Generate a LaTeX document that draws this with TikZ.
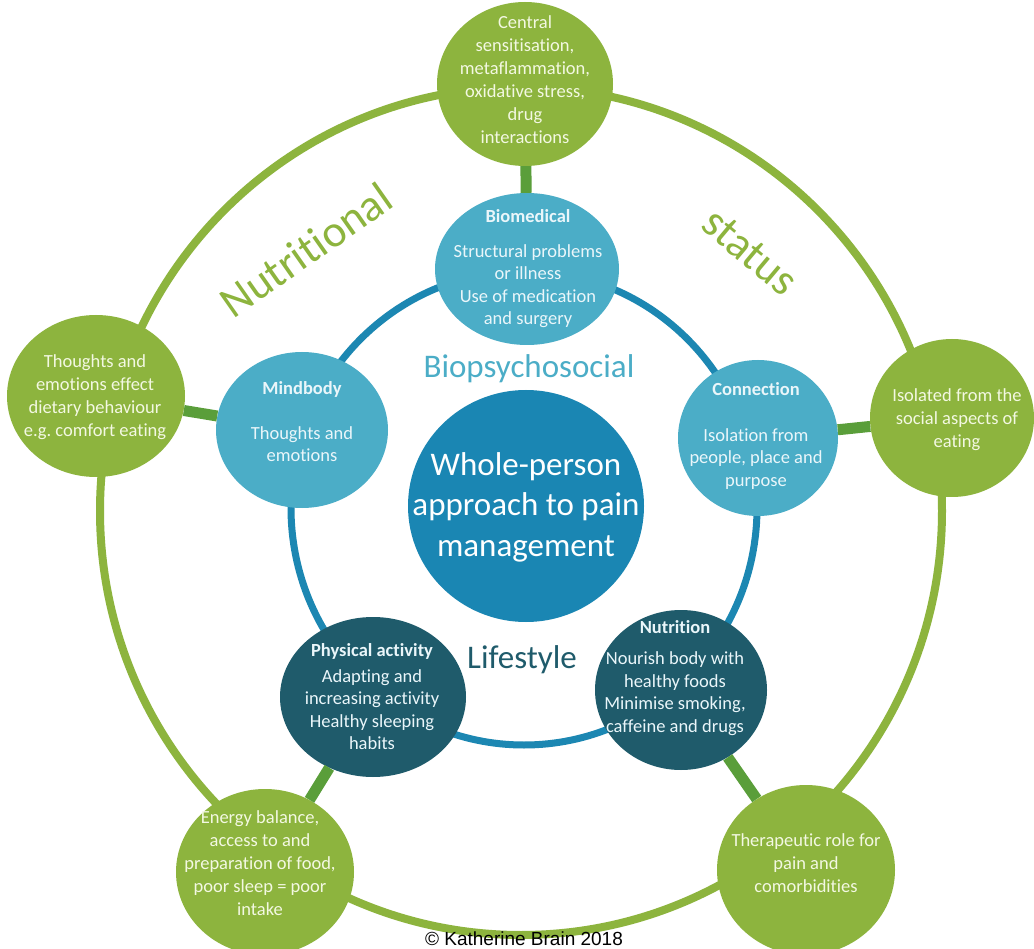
\documentclass[tikz,border=0pt]{standalone}
\usepackage{fontspec}
\setmainfont{Carlito}[Ligatures=NoCommon]
\newfontfamily\arialf{Liberation Sans}
\usetikzlibrary{shapes.geometric}
\definecolor{grn}{HTML}{8DB43E}
\definecolor{grnd}{HTML}{5A9E3A}
\definecolor{aqua}{HTML}{4BADC7}
\definecolor{ringb}{HTML}{1C87B2}
\definecolor{cblue}{HTML}{1A86B3}
\definecolor{dteal}{HTML}{1F5B6B}
\definecolor{gtext}{HTML}{F3F8E2}
\definecolor{btext}{HTML}{EAF6FA}
\newcommand\fsz[2]{\fontsize{#1}{#2}\selectfont}
\frenchspacing
\begin{document}
\begin{tikzpicture}[x=1pt,y=-1pt,
  blob/.style={ellipse, inner sep=0pt, draw=none},
  outerc/.style={blob, fill=grn},
  aquac/.style={blob, fill=aqua},
  tealc/.style={blob, fill=dteal},
  gtxt/.style={align=center, text=gtext, font=\fsz{18.5}{23}, inner sep=0pt},
  btxt/.style={align=center, text=btext, font=\fsz{18.5}{22.5}, inner sep=0pt},
  bar/.style={draw=grnd, line width=11pt},
  ringouter/.style={draw=grn, line width=8pt},
  ringinner/.style={draw=ringb, line width=7pt}]
\useasboundingbox (0,0) rectangle (1034,949);
\fill[white] (0,0) rectangle (1034,949);
% rings
\draw[ringouter] (521,511) ellipse [x radius=421, y radius=424];
\draw[ringinner] (524,508) ellipse [x radius=233, y radius=237];
% outer green circles
\node[outerc, minimum width=176, minimum height=164] (g1) at (525,84) {};
\node[outerc, minimum width=178, minimum height=162] (g2) at (96,396) {};
\node[outerc, minimum width=164, minimum height=158] (g3) at (952,418) {};
\node[outerc, minimum width=178, minimum height=166] (g4) at (265,872) {};
\node[outerc, minimum width=178, minimum height=170] (g5) at (806,870) {};
% inner circles
\node[aquac, minimum width=184, minimum height=152] (bio) at (527,269) {};
\node[aquac, minimum width=172, minimum height=156] (mind) at (302,430) {};
\node[aquac, minimum width=160, minimum height=156] (conn) at (758,438) {};
\node[tealc, minimum width=186, minimum height=160] (phys) at (373,697) {};
\node[tealc, minimum width=172, minimum height=160] (nutr) at (681,690) {};
\node[blob, fill=cblue, minimum width=236, minimum height=232] (core) at (526,506) {};
% bars
\draw[bar] (g1) -- (bio);
\draw[bar] (g2) -- (mind);
\draw[bar] (g3) -- (conn);
\draw[bar] (g4) -- (phys);
\draw[bar] (g5) -- (nutr);
% texts
\node[gtxt] (g1t) at (525,80) {Central\\sensitisation,\\metaflammation,\\oxidative stress,\\drug\\interactions};
\node[gtxt] (g2t) at (95,397) {Thoughts and\\emotions effect\\dietary behaviour\\e.g. comfort eating};
\node[gtxt] (g3t) at (957,420) {Isolated from the\\social aspects of\\eating};
\node[gtxt] (g4t) at (260,863) {Energy balance,\\access to and\\preparation of food,\\poor sleep = poor\\intake};
\node[gtxt] (g5t) at (806,863) {Therapeutic role for\\pain and\\comorbidities};
\node[btxt] (biot) at (528,269) {\textbf{Biomedical}\\[12pt]Structural problems\\or illness\\Use of medication\\and surgery};
\node[btxt] (mindt) at (302,422) {\textbf{Mindbody}\\[22pt]Thoughts and\\emotions};
\node[btxt] (connt) at (756,436) {\textbf{Connection}\\[23pt]Isolation from\\people, place and\\purpose};
\node[btxt] (physt) at (372,697) {\textbf{Physical activity}\\[3pt]Adapting and\\increasing activity\\Healthy sleeping\\habits};
\node[btxt] (nutrt) at (675,678) {\textbf{Nutrition}\\[9pt]Nourish body with\\healthy foods\\Minimise smoking,\\caffeine and drugs};
\node[align=center, text=white, font=\fsz{33}{40.5}, inner sep=0pt] (coret) at (526,507) {Whole-person\\approach to pain\\management};
\node[text=aqua, font=\fsz{33}{40}, inner sep=0pt] (bps) at (529,369) {Biopsychosocial};
\node[text=dteal, font=\fsz{33}{40}, inner sep=0pt] (life) at (522,660) {Lifestyle};
\node[text=grn, font=\fsz{45}{50}, inner sep=0pt, rotate=35] (nutl) at (306,250) {Nutritional};
\node[text=grn, font=\fsz{45}{50}, inner sep=0pt, rotate=-40] (stat) at (750,252) {status};
\node[text=black, font=\arialf\fsz{19}{22}, inner sep=0pt] (copy) at (524,939) {© Katherine Brain 2018};
\end{tikzpicture}
\end{document}
